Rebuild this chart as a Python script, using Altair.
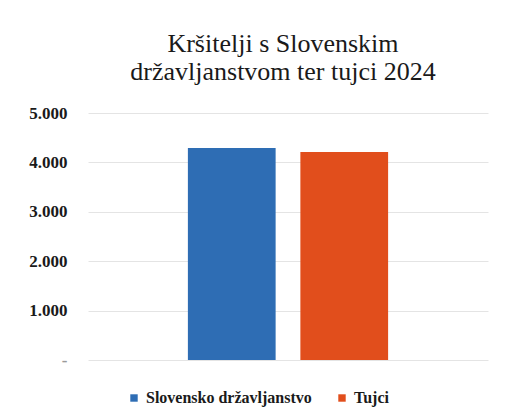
import altair as alt
import pandas as pd

categories = ["Slovensko državljanstvo", "Tujci"]
values = [4290, 4210]
colors = ["#2E6DB4", "#E14E1C"]
title_lines = ["Kršitelji s Slovenskim", "državljanstvom ter tujci 2024"]

df = pd.DataFrame({"kategorija": categories, "vrednost": values})

chart = (
    alt.Chart(df)
    .mark_bar()
    .encode(
        x=alt.X(
            "kategorija:N",
            sort=categories,
            axis=None,
            scale=alt.Scale(paddingInner=0.22, paddingOuter=0.888),
        ),
        y=alt.Y(
            "vrednost:Q",
            scale=alt.Scale(domain=[0, 5000]),
            axis=alt.Axis(
                values=[0, 1000, 2000, 3000, 4000, 5000],
                labelExpr="datum.value == 0 ? '-' : replace(format(datum.value, ',d'), ',', '.')",
                title=None,
                domain=False,
                ticks=False,
                grid=True,
                gridColor="#e4e4e4",
                gridWidth=1,
                labelFont="Liberation Serif",
                labelFontWeight="bold",
                labelFontSize=17,
                labelColor={"condition": {"test": "datum.value == 0", "value": "#9a9a9a"}, "value": "#1a1a1a"},
                labelPadding=21,
            ),
        ),
        color=alt.Color(
            "kategorija:N",
            sort=categories,
            scale=alt.Scale(domain=categories, range=colors),
            legend=alt.Legend(
                title=None,
                orient="none",
                direction="horizontal",
                legendX=38,
                legendY=277,
                symbolType="square",
                symbolSize=55,
                symbolStrokeWidth=0,
                labelFont="Liberation Serif",
                labelFontWeight="bold",
                labelFontSize=16,
                labelColor="#1a1a1a",
                labelLimit=0,
                columnPadding=22,
                labelOffset=4,
            ),
        ),
    )
    .properties(
        width=400,
        height=247,
        autosize=alt.AutoSizeParams(type="none"),
        padding={"left": 80, "top": 105, "right": 11, "bottom": 48},
        title=alt.TitleParams(
            text=title_lines,
            font="Liberation Serif",
            fontSize=26,
            fontWeight="normal",
            color="#1a1a1a",
            anchor="middle",
            lineHeight=28,
            offset=19,
            dx=-5,
        ),
    )
    .configure_view(stroke=None)
)

chart.save("out.html", embed_options={"renderer": "svg", "actions": False})
